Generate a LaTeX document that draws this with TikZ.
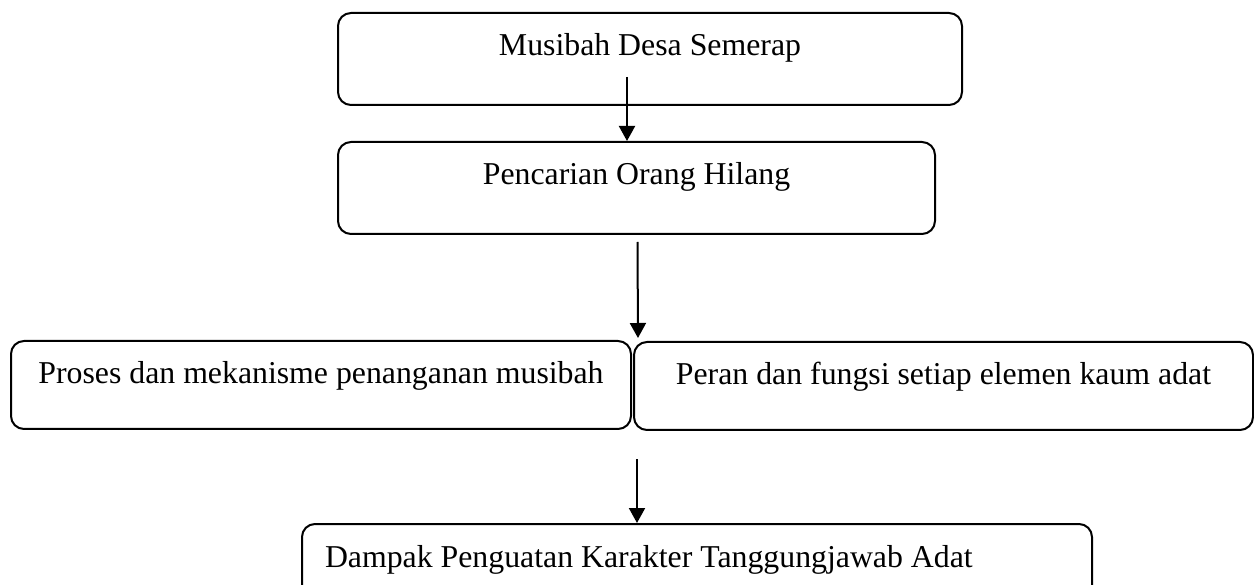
\documentclass[tikz,border=0pt]{standalone}
\usepackage{fontspec}
\setmainfont{Liberation Serif}
\usetikzlibrary{arrows.meta}

\begin{document}
\begin{tikzpicture}[x=1pt,y=-1pt,
    box/.style={draw,line width=2pt,rounded corners=13pt,anchor=north west,
      inner xsep=0pt,inner ysep=0pt,text height=43pt,
      font=\fontsize{31.8pt}{38pt}\selectfont},
    arr/.style={line width=2pt,-{Triangle[width=16pt,length=15pt]}}]
  \useasboundingbox (0,0) rectangle (1254,585);
  \node[box,minimum width=624pt,text depth=49pt] (musibah) at (337,12) {Musibah Desa Semerap};
  \node[box,minimum width=597pt,text depth=49pt] (pencarian) at (337,141) {Pencarian Orang Hilang};
  \node[box,minimum width=620pt,text depth=45pt] (proses) at (10,340) {Proses dan mekanisme penanganan musibah};
  \node[box,minimum width=619pt,text depth=45pt] (peran) at (633,341) {Peran dan fungsi setiap elemen kaum adat};
  \node[box,text width=744pt,inner xsep=23pt,align=flush left,text depth=47pt] (dampak) at (301,523)
    {Dampak Penguatan Karakter Tanggungjawab Adat};
  % panah
  \draw[arr] (musibah.south -| 627,0) ++(0,-29) -- (pencarian.north -| 627,0);
  \draw[arr] ([xshift=1pt,yshift=-7pt]pencarian.south) -- ([xshift=6pt,yshift=2pt]proses.north east);
  \coordinate (turun) at ([xshift=5pt,yshift=-29pt]proses.south east);
  \draw[arr] (turun) -- (turun |- dampak.north);
\end{tikzpicture}
\end{document}
